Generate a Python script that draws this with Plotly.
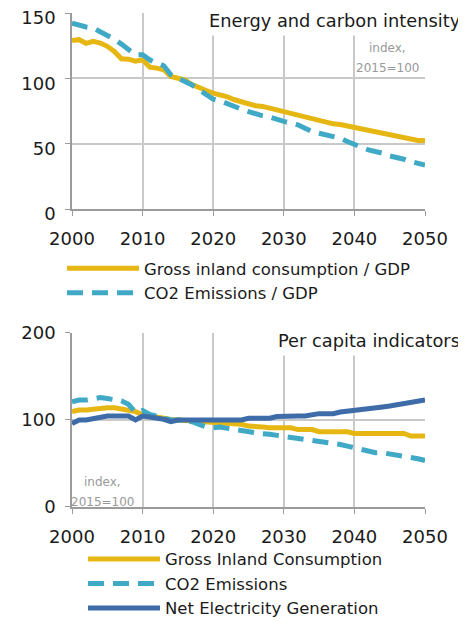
"""Energy and carbon intensity / per capita indicators, index 2015=100."""
import plotly.graph_objects as go

YEARS = list(range(2000, 2051))

# top panel: intensity per GDP
GIC_GDP = [
    129.0, 129.6, 126.8, 128.3, 127.0, 124.5, 120.6, 115.0, 114.7, 113.2,
    114.2, 108.6, 107.8, 106.6, 101.5, 100.0, 98.6, 95.2, 92.6, 90.7,
    88.7, 87.4, 85.9, 83.6, 81.8, 80.5, 79.0, 78.5, 77.2, 75.4,
    73.9, 73.3, 72.1, 70.8, 69.3, 68.2, 66.7, 65.2, 64.7, 63.6,
    62.1, 61.6, 60.0, 58.5, 58.0, 56.7, 55.5, 55.0, 53.6, 52.4,
    52.4,
]
CO2_GDP = [
    142.3, 140.3, 139.3, 138.5, 136.0, 133.4, 130.0, 126.2, 121.9, 118.0,
    118.0, 114.2, 111.7, 109.6, 102.7, 100.0, 98.1, 95.0, 91.2, 87.4,
    84.0, 82.8, 81.0, 79.0, 76.4, 74.6, 72.8, 71.3, 70.3, 68.2,
    67.0, 65.7, 64.4, 61.8, 59.3, 58.0, 56.7, 55.5, 54.2, 51.6,
    49.1, 47.3, 45.2, 44.0, 42.7, 40.6, 39.6, 38.1, 36.3, 35.0,
    33.7,
]

# bottom panel: per capita
GIC_CAP = [
    109.6, 111.5, 111.5, 112.5, 114.0, 114.0, 114.0, 113.0, 112.0, 109.6,
    106.0, 105.0, 103.0, 102.0, 100.5, 100.0, 99.0, 98.5, 98.0, 97.5,
    96.5, 95.8, 95.8, 95.8, 95.0, 93.0, 93.0, 92.0, 91.0, 91.0,
    91.0, 91.0, 89.0, 89.0, 89.0, 86.5, 86.5, 86.5, 86.5, 86.5,
    84.6, 84.6, 84.6, 84.6, 84.6, 84.6, 84.6, 84.6, 81.5, 81.5,
    81.5,
]
CO2_CAP = [
    121.0, 123.0, 123.0, 125.0, 125.8, 124.6, 123.0, 122.0, 118.0, 108.5,
    111.0, 106.5, 104.6, 102.0, 100.0, 100.0, 99.0, 98.0, 95.0, 92.0,
    91.0, 92.0, 90.4, 89.0, 87.3, 86.5, 85.8, 84.2, 83.5, 82.3,
    81.5, 80.4, 79.6, 78.8, 77.3, 75.8, 75.0, 73.8, 71.9, 70.0,
    68.0, 66.0, 64.2, 62.3, 62.3, 61.0, 60.4, 58.5, 56.5, 55.4,
    53.5,
]
ELEC_CAP = [
    95.8, 100.0, 100.0, 102.0, 104.0, 104.6, 104.6, 104.6, 104.6, 100.0,
    104.6, 103.5, 102.7, 100.8, 98.0, 100.0, 100.0, 100.0, 100.0, 100.0,
    100.0, 100.0, 100.0, 100.0, 100.0, 102.0, 102.0, 102.0, 102.0, 104.0,
    104.6, 104.6, 104.6, 104.6, 106.5, 107.3, 107.3, 107.3, 109.2, 110.4,
    111.2, 112.3, 113.5, 114.2, 115.0, 116.0, 117.3, 118.8, 120.0, 121.0,
    123.0,
]

YELLOW = "#E6B712"
CYAN = "#40A9C6"
NAVY = "#3E6CA9"
GRID = "#C9C9C9"
AXIS = "#9B9B9B"
NOTE = "#999999"
FONT = "DejaVu Sans"


def _line(y, name, color, xaxis, yaxis, legend, dash="solid"):
    return go.Scatter(
        x=YEARS, y=y, name=name, mode="lines",
        line=dict(color=color, width=5, dash=dash),
        xaxis=xaxis, yaxis=yaxis, legend=legend, hoverinfo="skip",
    )


fig = go.Figure()
fig.add_trace(_line(GIC_GDP, "Gross inland consumption / GDP", YELLOW, "x", "y", "legend"))
fig.add_trace(_line(CO2_GDP, "CO2 Emissions / GDP", CYAN, "x", "y", "legend", dash="16px,9px"))
fig.add_trace(_line(GIC_CAP, "Gross Inland Consumption", YELLOW, "x2", "y2", "legend2"))
fig.add_trace(_line(CO2_CAP, "CO2 Emissions", CYAN, "x2", "y2", "legend2", dash="16px,9px"))
fig.add_trace(_line(ELEC_CAP, "Net Electricity Generation", NAVY, "x2", "y2", "legend2"))

XDOM = [0.0577, 0.9063]

xcommon = dict(
    range=[2000, 2050], dtick=10, domain=XDOM, showgrid=True, gridcolor=GRID,
    gridwidth=1.5, showline=True, linecolor=AXIS, linewidth=1.5,
    ticks="outside", ticklen=5, tickcolor=AXIS, zeroline=False,
    tickfont=dict(size=18), automargin=False, ticklabelstandoff=8,
    ticklabeloverflow="allow",
)
ycommon = dict(
    showgrid=True, gridcolor=GRID, gridwidth=1.5, showline=True,
    linecolor=AXIS, linewidth=1.5, ticks="outside", ticklen=5,
    tickcolor=AXIS, zeroline=False, tickfont=dict(size=18),
    automargin=False, ticklabelstandoff=6, ticklabeloverflow="allow",
)

legend_common = dict(
    orientation="v", xanchor="left", yanchor="top", bgcolor="rgba(0,0,0,0)",
    font=dict(size=16.5, color="#1a1a1a"), itemwidth=72, tracegroupgap=0,
)


def _note(text, x, y, size=12, color=NOTE, **kw):
    return dict(text=text, xref="paper", yref="paper", x=x, y=y,
                xanchor=kw.pop("xanchor", "center"), yanchor="middle",
                showarrow=False, font=dict(size=size, color=color), **kw)


fig.update_layout(
    width=466, height=621,
    margin=dict(l=40, r=10, t=5, b=5, autoexpand=False),
    plot_bgcolor="white", paper_bgcolor="white",
    font=dict(family=FONT, color="#1a1a1a"),
    showlegend=True,
    xaxis=dict(**xcommon, anchor="y"),
    # top labels nudged down so "150" is not clipped at the page edge
    yaxis=dict(**ycommon, range=[0, 150], dtick=50, domain=[0.6792, 1],
               ticklabelshift=5),
    xaxis2=dict(**xcommon, anchor="y2"),
    yaxis2=dict(**ycommon, range=[0, 200], dtick=100, domain=[0.1915, 0.4763]),
    legend=dict(**legend_common, x=0.0337, y=0.6105),
    legend2=dict(**legend_common, x=0.0841, y=0.1345),
    annotations=[
        _note("Energy and carbon intensity", 1.0024, 0.9885, size=17.8,
              color="#1a1a1a", xanchor="right", bgcolor="white", borderpad=4),
        _note("index,", 0.8173, 0.9422),
        _note("2015=100", 0.8173, 0.91),
        _note("Per capita indicators", 1.0024, 0.4648, size=17.8,
              color="#1a1a1a", xanchor="right", bgcolor="white", borderpad=4),
        _note("index,", 0.1322, 0.2329),
        _note("2015=100", 0.1322, 0.2002),
    ],
)

fig.write_html("out.html")
